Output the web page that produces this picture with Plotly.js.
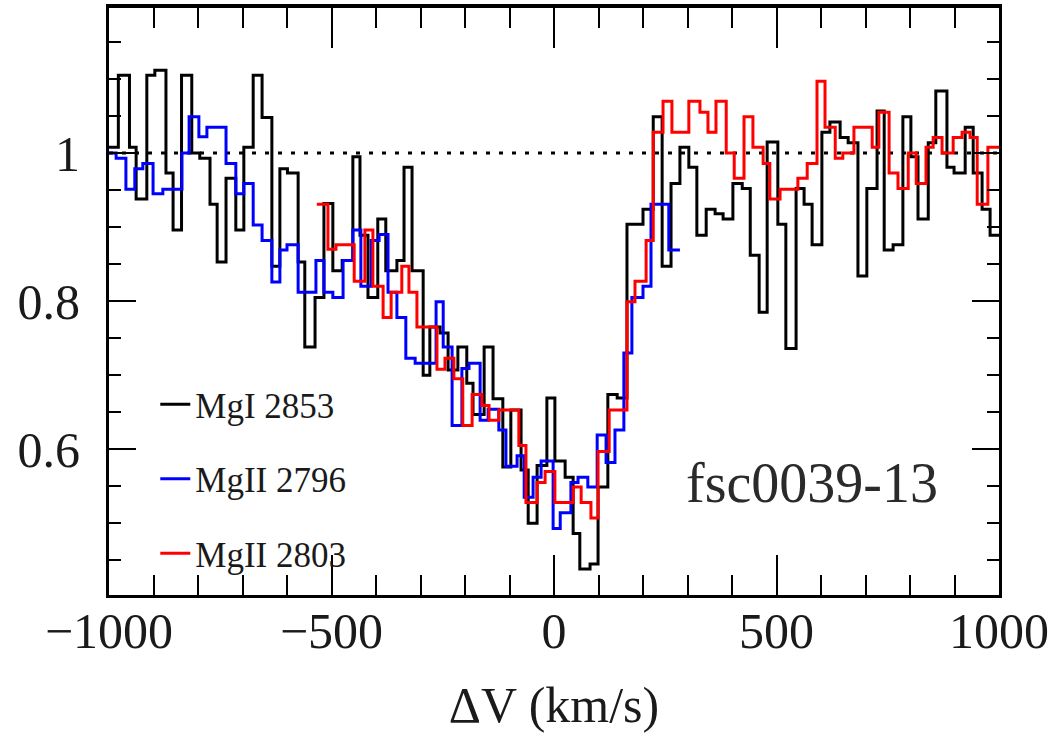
<!DOCTYPE html>
<html>
<head>
<meta charset="utf-8">
<script src="https://cdn.plot.ly/plotly-3.0.1.min.js"></script>
<style>html,body{margin:0;padding:0;background:#fff;}#chart{width:1060px;height:733px;}</style>
</head>
<body>
<div id="chart"></div>
<script>
// ---- Data (velocity bin edges in km/s, normalised flux per bin) ----
const mgI2853_edges = [-1000,-979,-954,-939,-915,-897,-872,-856,-837,-814,
  -796,-773,-757,-737,-715,-697,-676,-656,-634,-616,
  -599,-575,-560,-537,-517,-497,-476,-452,-436,-418,
  -396,-378,-353,-337,-319,-294,-279,-256,-238,-216,
  -196,-182,-157,-137,-115,-97,-74,-58,-38,-16,
  2,25,43,58,81,99,121,142,164,200,
  223,243,263,283,303,321,342,362,380,402,
  423,441,461,479,503,521,544,562,580,602,
  620,643,661,683,703,726,742,762,784,802,
  818,841,858,883,899,924,942,962,980,1000];
const mgI2853_flux = [1.008,1.105,1.008,0.938,1.105,1.112,0.973,0.896,1.105,1.0,
  0.993,0.931,0.853,0.966,0.896,1.008,1.105,1.048,0.847,0.979,
  0.973,0.853,0.738,0.805,0.932,0.841,0.855,0.995,0.889,0.805,
  0.911,0.841,0.855,0.981,0.841,0.70,0.765,0.757,0.707,0.738,
  0.689,0.647,0.738,0.668,0.576,0.653,0.572,0.50,0.578,0.669,
  0.584,0.562,0.486,0.438,0.445,0.549,0.674,0.669,0.904,0.924,
  1.049,0.847,0.959,1.008,0.981,0.889,0.924,0.918,0.911,0.959,
  0.952,0.862,0.785,1.015,0.904,0.736,0.952,0.931,0.876,1.028,
  1.042,1.021,1.014,0.834,0.952,1.057,0.869,0.876,1.049,0.995,
  0.911,1.014,1.084,0.981,0.973,1.035,0.973,0.924,0.889];

const mgII2796_edges = [-1000,-984,-962,-942,-924,-901,-879,-836,-820,-798,
  -780,-737,-715,-697,-676,-656,-634,-616,-600,-575,
  -535,-517,-497,-474,-452,-434,-411,-393,-373,-353,
  -333,-312,-265,-249,-229,-207,-191,-166,-148,-124,
  -108,-83,-67,-47,-29,-2,14,38,54,76,
  97,117,137,157,175,200,218,258,283];
const mgII2796_flux = [1.0,0.993,0.951,0.979,0.986,0.945,0.951,1.0,1.049,1.022,
  1.035,0.986,0.945,0.959,0.903,0.882,0.826,0.869,0.876,0.812,
  0.855,0.812,0.805,0.855,0.896,0.820,0.882,0.890,0.812,0.778,
  0.723,0.716,0.799,0.738,0.632,0.709,0.716,0.639,0.654,0.626,
  0.577,0.591,0.535,0.562,0.584,0.493,0.514,0.555,0.562,0.549,
  0.619,0.582,0.626,0.73,0.805,0.820,0.931,0.869];

const mgII2803_edges = [-533,-508,-490,-449,-425,-407,-384,-366,-342,-326,
  -308,-263,-245,-225,-205,-184,-162,-146,-124,-79,
  -63,-38,-20,2,43,61,83,99,124,164,
  182,207,223,245,265,303,328,346,364,387,
  405,427,447,470,485,508,548,569,591,609,
  632,649,674,715,730,753,773,796,814,836,
  852,872,897,917,935,951,975,1000];
const mgII2803_flux = [0.931,0.870,0.876,0.827,0.896,0.820,0.778,0.812,0.847,0.812,
  0.765,0.708,0.723,0.695,0.632,0.674,0.659,0.639,0.653,0.605,
  0.528,0.555,0.570,0.528,0.549,0.528,0.507,0.597,0.653,0.799,
  0.827,0.882,1.028,1.070,1.028,1.070,1.055,1.028,1.070,1.0,
  0.966,1.049,1.008,0.986,0.938,0.951,0.966,0.986,1.097,1.035,
  0.993,1.0,1.035,1.008,1.055,0.973,0.952,1.0,0.959,1.008,
  1.021,1.0,1.021,1.028,1.021,0.931,1.008];

const seriesNames = ['MgI 2853', 'MgII 2796', 'MgII 2803'];
const xTickVals = [-1000, -500, 0, 500, 1000];
const yTickVals = [0.6, 0.8, 1];
const yTickText = ['0.6', '0.8', '1'];
const continuumLevel = 1;
const objectLabel = 'fsc0039-13';

// ---- Build step traces ----
function stepTrace(edges, flux, name, color, width) {
  return {
    x: edges,
    y: flux.concat([flux[flux.length - 1]]),
    type: 'scatter', mode: 'lines', name: name, legendgroup: name,
    line: {shape: 'hv', color: color, width: width},
    hoverinfo: 'skip'
  };
}

const FONT = 'Liberation Serif, Times New Roman, serif';
const data = [
  stepTrace(mgI2853_edges, mgI2853_flux, seriesNames[0], '#000000', 3),
  stepTrace(mgII2796_edges, mgII2796_flux, seriesNames[1], '#0000ff', 3),
  stepTrace(mgII2803_edges, mgII2803_flux, seriesNames[2], '#ff0000', 3),
  // empty trace so the mirrored top/right frame axes are drawn
  {x: [], y: [], xaxis: 'x2', yaxis: 'y2', type: 'scatter', mode: 'lines', showlegend: false, hoverinfo: 'skip'}
];

const xr = [-1000, 1000];
const yr = [0.403, 1.196];
const xMinor = {dtick: 100, ticklen: 20, tickwidth: 2, tickcolor: '#000', ticks: 'inside'};
const yMinor = {dtick: 0.05, tick0: 0, ticklen: 12, tickwidth: 2, tickcolor: '#000', ticks: 'inside'};

const layout = {
  width: 1060, height: 733,
  margin: {l: 109, r: 61, t: 8, b: 138},
  paper_bgcolor: '#ffffff', plot_bgcolor: '#ffffff',
  showlegend: true,
  legend: {
    x: 0.052, y: 0.375, xanchor: 'left', yanchor: 'top',
    bgcolor: 'rgba(0,0,0,0)', borderwidth: 0,
    traceorder: 'grouped', tracegroupgap: 26,
    font: {family: FONT, size: 35, color: '#1a1a1a'}
  },
  xaxis: {
    range: xr, tickmode: 'array', tickvals: xTickVals,
    ticks: 'inside', ticklen: 40, tickwidth: 2, tickcolor: '#000',
    minor: xMinor,
    showline: true, linewidth: 3, linecolor: '#000',
    showgrid: false, zeroline: false,
    tickfont: {family: FONT, size: 50, color: '#1a1a1a'},
    ticklabelstandoff: -10,
    title: {text: 'ΔV (km/s)', font: {family: FONT, size: 50, color: '#1a1a1a'}, standoff: 32}
  },
  xaxis2: {
    range: xr, overlaying: 'x', side: 'top', anchor: 'y2',
    tickmode: 'array', tickvals: xTickVals,
    ticks: 'inside', ticklen: 40, tickwidth: 2, tickcolor: '#000',
    minor: xMinor, showticklabels: false,
    showline: true, linewidth: 4, linecolor: '#000',
    showgrid: false, zeroline: false
  },
  yaxis: {
    range: yr, tickmode: 'array', tickvals: yTickVals, ticktext: yTickText,
    ticks: 'inside', ticklen: 27, tickwidth: 2, tickcolor: '#000',
    minor: yMinor,
    showline: true, linewidth: 3, linecolor: '#000',
    showgrid: false, zeroline: false,
    tickfont: {family: FONT, size: 50, color: '#1a1a1a'},
    ticklabelstandoff: 16
  },
  yaxis2: {
    range: yr, overlaying: 'y', side: 'right', anchor: 'x2',
    tickmode: 'array', tickvals: yTickVals,
    ticks: 'inside', ticklen: 27, tickwidth: 2, tickcolor: '#000',
    minor: yMinor, showticklabels: false,
    showline: true, linewidth: 3, linecolor: '#000',
    showgrid: false, zeroline: false
  },
  shapes: [{
    type: 'line', xref: 'paper', x0: 0, x1: 1, yref: 'y', y0: continuumLevel, y1: continuumLevel,
    layer: 'below', line: {color: '#000', width: 3, dash: '4px,9px'}
  }],
  annotations: [{
    text: objectLabel, xref: 'paper', yref: 'paper', x: 0.79, y: 0.19,
    xanchor: 'center', yanchor: 'middle', showarrow: false,
    font: {family: FONT, size: 56, color: '#2a2a2a'}
  }]
};

Plotly.newPlot('chart', data, layout, {displayModeBar: false, staticPlot: true});
</script>
</body>
</html>
